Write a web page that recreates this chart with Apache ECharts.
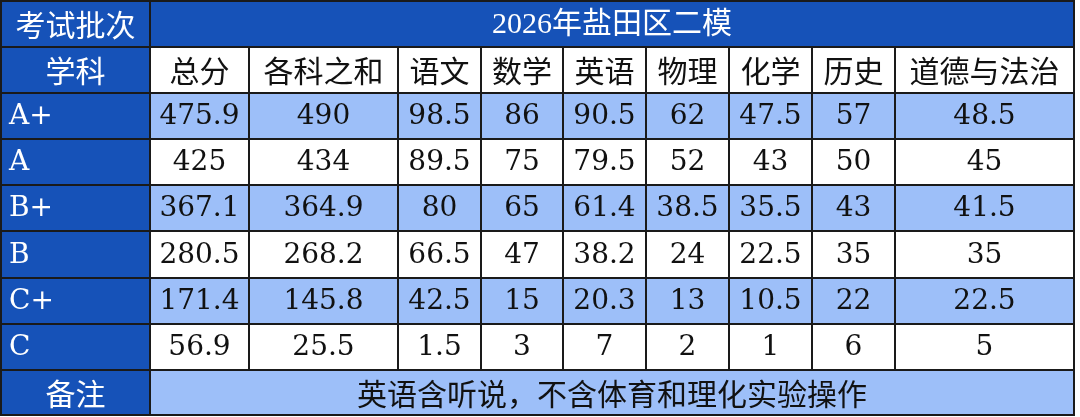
<!DOCTYPE html>
<html><head><meta charset="utf-8">
<script src="https://cdn.jsdelivr.net/npm/echarts@6/dist/echarts.min.js"></script>
<style>html,body{margin:0;padding:0;background:#fff}#main{width:1080px;height:417px}</style>
</head><body><div id="main"></div>
<script>
var title = '2026年盐田区二模';
var subjects = ['总分', '各科之和', '语文', '数学', '英语', '物理', '化学', '历史', '道德与法治'];
var grades = ['A+', 'A', 'B+', 'B', 'C+', 'C'];
var scores = [
    ['475.9', '490', '98.5', '86', '90.5', '62', '47.5', '57', '48.5'],
    ['425', '434', '89.5', '75', '79.5', '52', '43', '50', '45'],
    ['367.1', '364.9', '80', '65', '61.4', '38.5', '35.5', '43', '41.5'],
    ['280.5', '268.2', '66.5', '47', '38.2', '24', '22.5', '35', '35'],
    ['171.4', '145.8', '42.5', '15', '20.3', '13', '10.5', '22', '22.5'],
    ['56.9', '25.5', '1.5', '3', '7', '2', '1', '6', '5']
];
var note = '英语含听说，不含体育和理化实验操作';

// layout
var colEdges = [1, 150, 249, 398, 481, 563, 646, 729, 812, 895, 1074];
var rowEdges = [1, 47, 93, 139, 185, 231, 278, 324, 370, 415];
var DARK = '#1652b8', LIGHT = '#9dbff9', WHITE = '#ffffff';
var cnFont = '"Noto Sans CJK SC", sans-serif';
var numFont = '"DejaVu Serif", "Liberation Serif", serif';

// cells: [c0, c1, r, text, fill, color, font, align]
var cells = [];
cells.push([0, 1, 0, '考试批次', DARK, '#fff', cnFont, 'center']);
cells.push([1, 10, 0, title, DARK, '#fff', cnFont, 'center']);
cells.push([0, 1, 1, '学科', DARK, '#fff', cnFont, 'center']);
subjects.forEach(function (s, i) { cells.push([i + 1, i + 2, 1, s, WHITE, '#111', cnFont, 'center']); });
grades.forEach(function (g, r) {
    var fill = r % 2 === 0 ? LIGHT : WHITE;
    cells.push([0, 1, r + 2, g, DARK, '#fff', numFont, 'left']);
    scores[r].forEach(function (v, i) { cells.push([i + 1, i + 2, r + 2, v, fill, '#111', numFont, 'center']); });
});
cells.push([0, 1, 8, '备注', DARK, '#fff', cnFont, 'center']);
cells.push([1, 10, 8, note, LIGHT, '#111', cnFont, 'center']);

var chart = echarts.init(document.getElementById('main'));
chart.setOption({
    animation: false,
    grid: { left: 0, right: 0, top: 0, bottom: 0 },
    xAxis: { type: 'value', min: 0, max: 1080, show: false },
    yAxis: { type: 'value', min: 0, max: 417, inverse: true, show: false },
    series: [{
        type: 'custom',
        data: cells,
        silent: true,
        renderItem: function (params, api) {
            var c = cells[params.dataIndex];
            var p0 = api.coord([colEdges[c[0]], rowEdges[c[2]]]);
            var p1 = api.coord([colEdges[c[1]], rowEdges[c[2] + 1]]);
            var w = p1[0] - p0[0], h = p1[1] - p0[1];
            var isTitle = c[2] === 0 && c[0] === 1;
            var big = c[6] === cnFont;
            return {
                type: 'group',
                children: [{
                    type: 'rect',
                    shape: { x: p0[0], y: p0[1], width: w, height: h },
                    style: { fill: c[4], stroke: '#1a1a1a', lineWidth: 2 }
                }, {
                    type: 'text',
                    x: c[7] === 'left' ? p0[0] + 8 : p0[0] + w / 2,
                    y: p0[1] + h / 2 + 1,
                    style: {
                        text: c[3],
                        fill: c[5],
                        font: (big ? '30px ' : '28px ') + (isTitle ? '"Liberation Serif", ' + cnFont : c[6]),
                        align: c[7],
                        verticalAlign: 'middle'
                    }
                }]
            };
        }
    }]
});
</script></body></html>
